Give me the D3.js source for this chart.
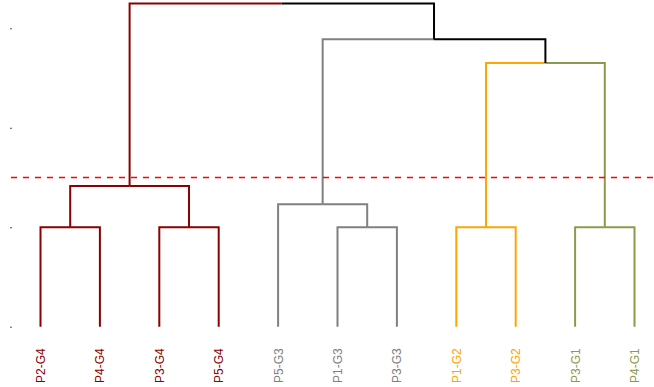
<!DOCTYPE html>
<html>
<head>
<meta charset="utf-8">
<script src="https://cdn.jsdelivr.net/npm/d3@7"></script>
<style>
  body { margin: 0; background: #fff; }
</style>
</head>
<body>
<div id="chart"></div>
<script>
// leaf labels in dendrogram order
const leaves = ["P2-G4", "P4-G4", "P3-G4", "P5-G4", "P5-G3", "P1-G3", "P3-G3", "P1-G2", "P3-G2", "P3-G1", "P4-G1"];
// cluster of each leaf
const leafCluster = [0, 0, 0, 0, 1, 1, 1, 2, 2, 3, 3];
const clusterColors = ["#8b0000", "#808080", "#ffa500", "#8c9a4c"];
// merges: [left node, right node, height], new node ids start at leaves.length
const merges = [
    [0, 1, 1.0],
    [2, 3, 1.0],
    [5, 6, 1.0],
    [7, 8, 1.0],
    [9, 10, 1.0],
    [11, 12, 1.414],
    [4, 13, 1.23],
    [14, 15, 2.65],
    [17, 18, 2.89],
    [16, 19, 3.25]
];
const threshold = 1.5;
const yTicks = [0, 1, 2, 3];

var W = 654, H = 387;
var svg = d3.select("#chart").append("svg")
    .attr("width", W)
    .attr("height", H);

const x = d3.scalePoint()
    .domain(leaves)
    .range([40.5, 634.5]);

const y = d3.scaleLinear()
    .domain([0, 3])
    .range([326.7, 28.3]);

// build node table
var nodes = leaves.map(function(name, i) {
    return { x: x(name), h: 0, cluster: leafCluster[i] };
});
merges.forEach(function(m) {
    var a = nodes[m[0]], b = nodes[m[1]];
    nodes.push({
        x: (a.x + b.x) / 2,
        h: m[2],
        cluster: a.cluster === b.cluster ? a.cluster : -1,
        left: a, right: b
    });
});
function colorOf(n) { return n.cluster < 0 ? "#000" : clusterColors[n.cluster]; }

// y axis: tick marks only
svg.append("g")
    .attr("transform", "translate(12,0)")
    .call(d3.axisLeft(y).tickValues(yTicks).tickSize(2).tickFormat(""))
    .call(g => g.select(".domain").remove())
    .selectAll("line")
    .style("stroke", "#555");

// links, each split in half: left half gets the left child's colour
var links = svg.append("g").attr("fill", "none").attr("stroke-width", 2);
nodes.filter(n => n.left).forEach(function(n) {
    links.append("path")
        .attr("d", "M" + n.left.x + "," + y(n.left.h) + "V" + y(n.h) + "H" + n.x)
        .attr("stroke", colorOf(n.left));
    links.append("path")
        .attr("d", "M" + n.x + "," + y(n.h) + "H" + n.right.x + "V" + y(n.right.h))
        .attr("stroke", colorOf(n.right));
});

// cut line
svg.append("line")
    .attr("x1", 11).attr("x2", W)
    .attr("y1", y(threshold)).attr("y2", y(threshold))
    .style("stroke", "red")
    .style("stroke-width", 1.3)
    .style("stroke-dasharray", "6 6");

// leaf labels
svg.selectAll(".leaf")
    .data(leaves)
    .enter().append("text")
    .attr("class", "leaf")
    .attr("transform", function(d) { return "translate(" + x(d) + ",383) rotate(-90)"; })
    .attr("dy", "0.38em")
    .style("text-anchor", "start")
    .style("font-family", "Liberation Sans, Arial, sans-serif")
    .style("font-size", "12px")
    .style("fill", function(d, i) { return clusterColors[leafCluster[i]]; })
    .text(function(d) { return d; });
</script>
</body>
</html>
